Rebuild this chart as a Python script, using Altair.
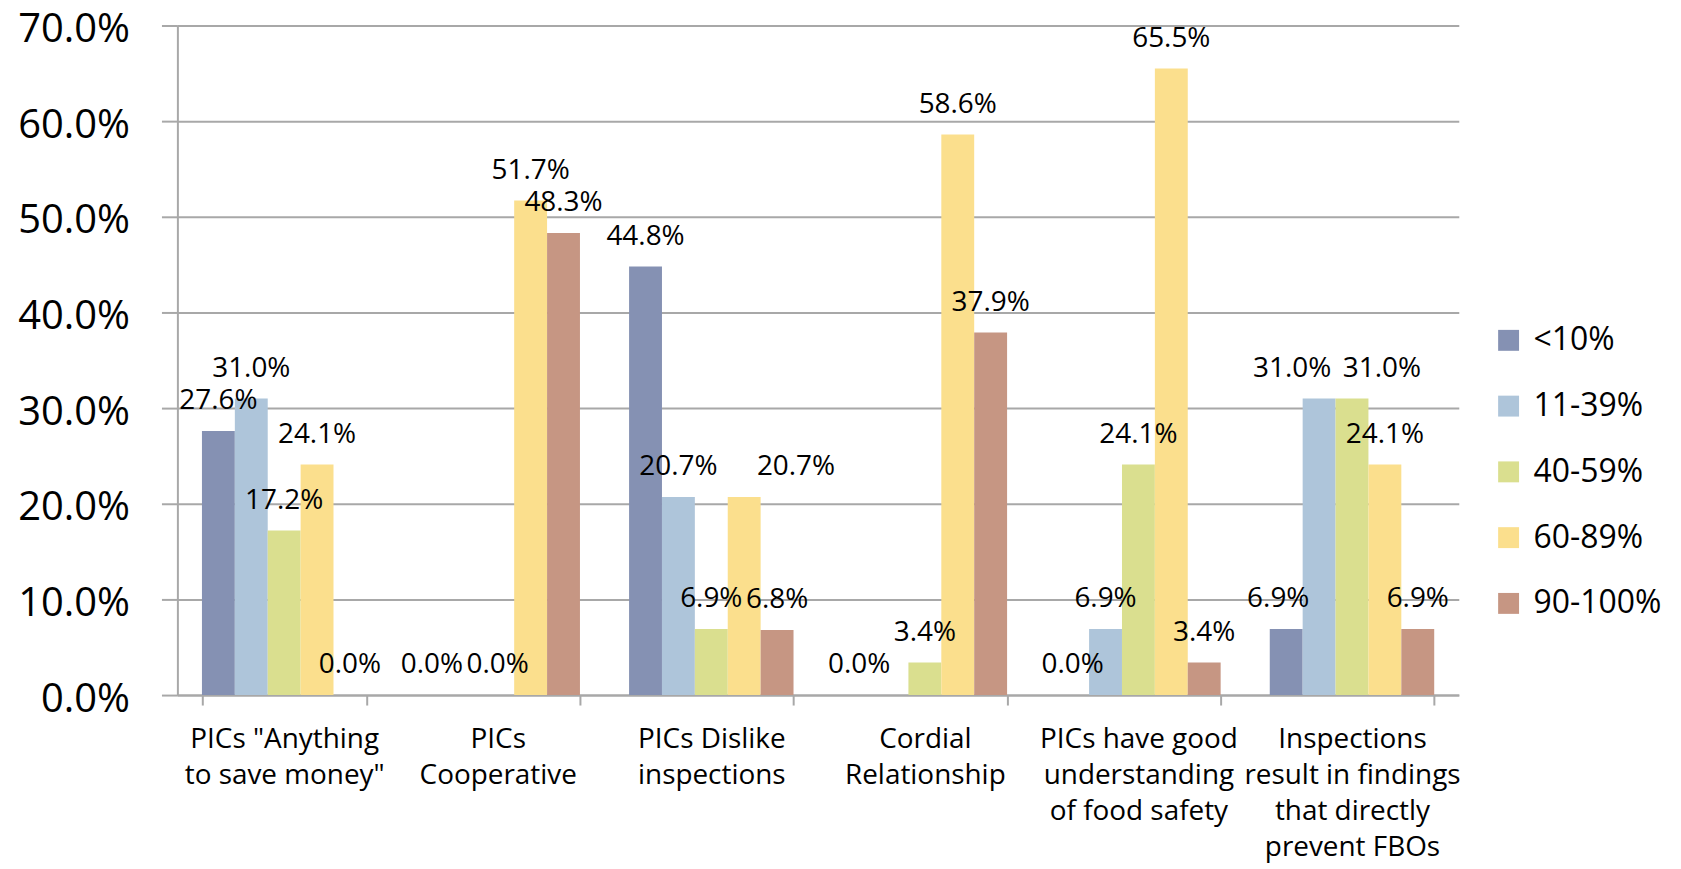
import altair as alt
import pandas as pd

categories = [
    'PICs "Anything|to save money"',
    'PICs|Cooperative',
    'PICs Dislike|inspections',
    'Cordial|Relationship',
    'PICs have good|understanding|of food safety',
    'Inspections|result in findings|that directly|prevent FBOs',
]
series = ["<10%", "11-39%", "40-59%", "60-89%", "90-100%"]
colors = ["#8591B3", "#AEC5DA", "#DADF8F", "#FBDF8D", "#C69683"]

lt10 = [27.6, 0.0, 44.8, 0.0, 0.0, 6.9]
s11_39 = [31.0, None, 20.7, None, 6.9, 31.0]
s40_59 = [17.2, 0.0, 6.9, 3.4, 24.1, 31.0]
s60_89 = [24.1, 51.7, 20.7, 58.6, 65.5, 24.1]
s90_100 = [0.0, 48.3, 6.8, 37.9, 3.4, 6.9]

y_ticks = [0, 10, 20, 30, 40, 50, 60, 70]

rows = []
for s, vals in zip(series, [lt10, s11_39, s40_59, s60_89, s90_100]):
    for c, v in zip(categories, vals):
        if v is not None:
            rows.append({"category": c, "series": s, "value": v})
df = pd.DataFrame(rows)

GREY = "#A8A8A8"
FONT = "Open Sans"

x = alt.X(
    "category:N",
    sort=categories,
    scale=alt.Scale(paddingInner=0.23, paddingOuter=0.115),
    axis=alt.Axis(
        title=None,
        labelAngle=0,
        labelExpr="split(datum.label, '|')",
        labelFont=FONT,
        labelFontSize=28,
        labelColor="black",
        labelLineHeight=36,
        labelLimit=500,
        labelOverlap=False,
        labelBaseline="top",
        labelPadding=21,
        tickBand="extent",
        tickSize=10,
        tickColor=GREY,
        tickWidth=2,
        domainColor=GREY,
        domainWidth=2,
        grid=False,
    ),
)
y = alt.Y(
    "value:Q",
    scale=alt.Scale(domain=[0, 70]),
    axis=alt.Axis(
        title=None,
        values=y_ticks,
        labelExpr="format(datum.value, '.1f') + '%'",
        labelFont=FONT,
        labelFontSize=40,
        labelColor="black",
        labelPadding=32,
        labelOffset=4,
        tickSize=16,
        tickColor=GREY,
        tickWidth=2,
        domainColor=GREY,
        domainWidth=2,
        gridColor=GREY,
        gridWidth=2,
    ),
)
xo = alt.XOffset("series:N", sort=series, scale=alt.Scale(domain=series, paddingInner=0, paddingOuter=0))

bars = alt.Chart(df).mark_bar().encode(
    x=x,
    y=y,
    xOffset=xo,
    color=alt.Color(
        "series:N",
        scale=alt.Scale(domain=series, range=colors),
        legend=alt.Legend(
            title=None,
            orient="none",
            legendX=1320,
            legendY=300,
            symbolType="square",
            symbolSize=441,
            symbolStrokeWidth=0,
            labelFont=FONT,
            labelFontSize=32,
            labelColor="black",
            labelOffset=9,
            rowPadding=34,
            padding=0,
        ),
    ),
)

# labels that were nudged sideways in the original to avoid overlaps
nudges = [
    (categories[2], "60-89%", 52),
    (categories[5], "<10%", -8),
    (categories[5], "11-39%", -27),
    (categories[5], "40-59%", 30),
]

def text_layer(filter_expr, dx=0):
    return alt.Chart(df).transform_calculate(
        label="format(datum.value, '.1f') + '%'"
    ).transform_filter(filter_expr).mark_text(
        dx=dx, dy=-22, baseline="alphabetic", font=FONT, fontSize=28, color="black"
    ).encode(
        x=x,
        y=y,
        xOffset=xo,
        text="label:N",
    )

def cond(c, s):
    c_esc = c.replace("\\", "\\\\").replace("'", "\\'")
    return f"(datum.category === '{c_esc}' && datum.series === '{s}')"

not_nudged = "!(" + " || ".join(cond(c, s) for c, s, _ in nudges) + ")"
layers = [bars, text_layer(not_nudged)]
for c, s, dx in nudges:
    layers.append(text_layer(cond(c, s), dx))

chart = alt.layer(*layers).properties(
    width=1286,
    height=672,
    autosize=alt.AutoSizeParams(type="none"),
    padding={"left": 170, "top": 16, "right": 215, "bottom": 170},
).configure_view(stroke=None)

chart.save("out.html", embed_options={"renderer": "svg", "actions": False})
